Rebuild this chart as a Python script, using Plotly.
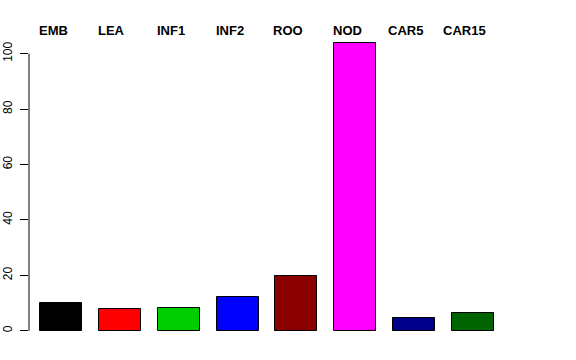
import plotly.graph_objects as go

categories = ["EMB", "LEA", "INF1", "INF2", "ROO", "NOD", "CAR5", "CAR15"]
values = [10.0, 7.95, 8.2, 12.3, 19.9, 103.8, 4.7, 6.4]
colors = ["#000000", "#FF0000", "#00CD00", "#0000FF", "#8B0000", "#FF00FF", "#00008B", "#006400"]
y_ticks = [0, 20, 40, 60, 80, 100]

# R barplot-style positions (width 1, space 0.4)
xpos = [0.9 + 1.4 * i for i in range(len(categories))]

fig = go.Figure()
fig.add_trace(go.Bar(
    x=xpos, y=values, width=1.0,
    marker=dict(color=colors, line=dict(color="#000000", width=1)),
    showlegend=False, hoverinfo="skip",
))

for xp, lab in zip(xpos, categories):
    fig.add_annotation(x=xp - 0.19, y=1.0, xref="x", yref="paper",
                       text="<b>" + lab + "</b>", showarrow=False,
                       xanchor="center", yanchor="bottom", yshift=-8,
                       font=dict(family="Liberation Sans, Arial, sans-serif", size=13, color="#000000"))

fig.add_shape(type="line", xref="paper", yref="y", x0=0, x1=0, y0=0, y1=100,
              line=dict(color="#000000", width=1))

fig.update_layout(
    width=576, height=360,
    margin=dict(l=29, r=64, t=32, b=18),
    paper_bgcolor="white", plot_bgcolor="white",
    font=dict(family="Liberation Sans, Arial, sans-serif", size=12, color="#000000"),
    xaxis=dict(range=[0.135, 11.635], visible=False, showgrid=False, zeroline=False,
               automargin=False),
    yaxis=dict(range=[-4.08, 107.8], tickvals=y_ticks, ticktext=[str(v) for v in y_ticks],
               ticks="outside", ticklen=8, tickcolor="#000000", tickwidth=1,
               tickangle=-90, showgrid=False, zeroline=False, showline=False,
               tickfont=dict(size=12), ticklabelstandoff=3, automargin=False),
    bargap=0,
)

fig.write_html("out.html")
